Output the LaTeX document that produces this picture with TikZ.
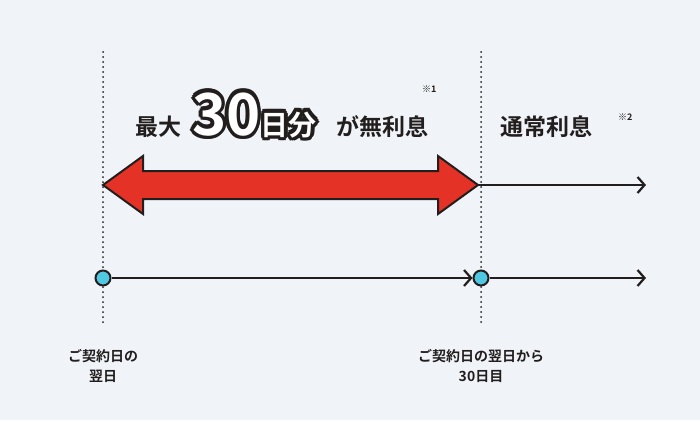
\documentclass[tikz,border=0pt]{standalone}
\usepackage{fontspec}
\usepackage{tikz}
\usetikzlibrary{positioning, arrows.meta, calc}
\newfontfamily\jp{Noto Sans CJK JP}[UprightFont=* Bold]
\definecolor{bgcol}{RGB}{240,244,248}
\definecolor{inkcol}{RGB}{35,30,30}
\definecolor{redcol}{RGB}{228,50,38}
\definecolor{dotcol}{RGB}{80,200,225}
\begin{document}
\begin{tikzpicture}[
	  x=1pt, y=-1pt,
	  inkcol,
	  line_style/.style={
	  	draw=inkcol,
	  	line width=2.2pt,
	  	-{Straight Barb[length=7pt,width=16pt,line width=2.2pt]}
	  },
	  guide_style/.style={
	  	draw=inkcol,
	  	line width=2pt,
	  	dash pattern=on 0pt off 5pt,
	  	line cap=round
	  },
	  point_style/.style={
	  	circle,
	  	draw=inkcol,
	  	fill=dotcol,
	  	line width=2pt,
	  	inner sep=0pt,
	  	minimum size=15pt
	  },
	  label_style/.style={
	  	align=center,
	  	text=inkcol,
	  	font=\jp\fontsize{14}{20}\selectfont
	  },
	  head_style/.style={
	  	anchor=base west,
	  	text=inkcol,
	  	inner sep=0pt,
	  	font=\jp\fontsize{23}{26}\selectfont
	  }]
	\fill[bgcol] (0,0) rectangle (700,420);
	\useasboundingbox (0,0) rectangle (700,420);
	% guides
	\coordinate (startTop) at (103,52);
	\coordinate (startBot) at (103,322);
	\coordinate (endTop) at (481,52);
	\coordinate (endBot) at (481,322);
	\draw[guide_style] (startTop) -- (startBot);
	\draw[guide_style] (endTop) -- (endBot);
	% upper line
	\coordinate (upperEnd) at (646,185);
	\coordinate (upperStart) at (478,185);
	\draw[line_style] (upperStart) -- (upperEnd);
	% red double arrow
	\draw[inkcol, fill=redcol, line width=2pt, line join=miter]
		(103,185) -- (143,156) -- (143,171) -- (438,171) -- (438,156) -- (478,185)
		-- (438,214) -- (438,199) -- (143,199) -- (143,214) -- cycle;
	% lower line
	\node[point_style] (dayOne) at (103,278) {};
	\node[point_style] (dayThirty) at (481,278) {};
	\coordinate (lowerEnd) at (646,278);
	\draw[line_style] (dayOne) -- (dayThirty);
	\draw[line_style] (dayThirty) -- (lowerEnd);
	% labels
	\node[label_style] (startLabel) at (103,366) {ご契約日の\\翌日};
	\node[label_style] (endLabel) at (481,366) {ご契約日の翌日から\\30日目};
	\node[head_style] (maxText) at (135,135) {最大};
	\foreach \a in {0,30,...,330}
		\node[anchor=base west, inner sep=0pt, font=\jp\fontsize{58}{60}\selectfont\kern-2pt, text=inkcol]
			at ($(194,135)+(\a:3.5)$) {30\fontsize{28}{30}\selectfont 日分};
	\node[anchor=base west, inner sep=0pt, font=\jp\fontsize{58}{60}\selectfont\kern-2pt, text=white]
		(bigText) at (194,135) {30\fontsize{28}{30}\selectfont 日分};
	\node[head_style] (freeText) at (336,135) {が無利息};
	\node[anchor=base west, inner sep=0pt, font=\jp\fontsize{9}{10}\selectfont] (noteOne) at (422,92) {※1};
	\node[head_style] (normalText) at (500,135) {通常利息};
	\node[anchor=base west, inner sep=0pt, font=\jp\fontsize{9}{10}\selectfont] (noteTwo) at (618,120) {※2};
\end{tikzpicture}
\end{document}
